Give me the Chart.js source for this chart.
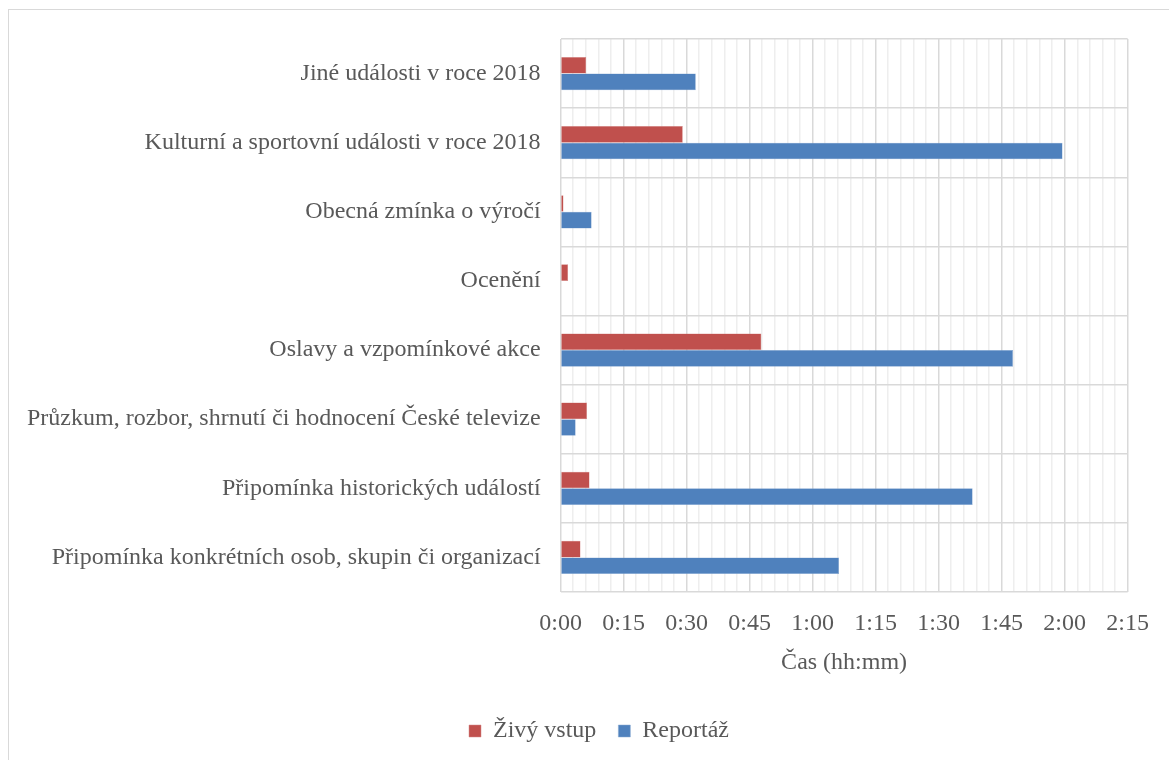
<!DOCTYPE html>
<html>
<head>
<meta charset="utf-8">
<script src="https://cdn.jsdelivr.net/npm/chart.js@4.4.1/dist/chart.umd.min.js"></script>
<style>
  html, body { margin: 0; padding: 0; background: #fff; }
  #wrap { position: relative; width: 1169px; height: 760px; }
  #frame { position: absolute; left: 8px; top: 9px; width: 1200px; height: 800px; border: 1px solid #d9d9d9; box-sizing: border-box; }
  canvas { position: absolute; left: 0; top: 0; }
</style>
</head>
<body>
<div id="wrap">
  <div id="frame"></div>
  <canvas id="casChart" width="1169" height="760"></canvas>
</div>
<script>
// kategorie shora dolu
const categories = [
    'Jiné události v roce 2018',
    'Kulturní a sportovní události v roce 2018',
    'Obecná zmínka o výročí',
    'Ocenění',
    'Oslavy a vzpomínkové akce',
    'Průzkum, rozbor, shrnutí či hodnocení České televize',
    'Připomínka historických událostí',
    'Připomínka konkrétních osob, skupin či organizací'
];

// hodnoty v minutach
const zivyVstup = [6.1, 29.1, 0.7, 1.8, 47.8, 6.3, 6.9, 4.75];
const reportaz = [32.2, 119.5, 7.4, 0, 107.7, 3.6, 98.1, 66.3];

// osa x: 0:00 .. 2:15, popisky po 15 min, pomocne mrizky po 3 min
const axisMax = 135;
const labelStep = 15;
const minorStep = 3;

function fmt(min) {
    const h = Math.floor(min / 60);
    const m = Math.round(min % 60).toString().padStart(2, '0');
    return h + ':' + m;
}

const ctx = document.getElementById('casChart').getContext('2d');
const font = "'Liberation Serif', 'Times New Roman', serif";

// posun legendy trochu doprava (jako v Excelu)
const legendShift = {
    id: 'legendShift',
    afterLayout(chart) {
        chart.legend.left += 31;
        chart.legend.right += 31;
    }
};

new Chart(ctx, {
    type: 'bar',
    data: {
        labels: categories,
        datasets: [
            {
                label: 'Živý vstup',
                data: zivyVstup,
                backgroundColor: '#C0504D',
                borderColor: '#d58a88',
                borderWidth: 0.5,
                categoryPercentage: 0.48,
                barPercentage: 1.0
            },
            {
                label: 'Reportáž',
                data: reportaz,
                backgroundColor: '#4F81BD',
                borderColor: '#8aaad3',
                borderWidth: 0.5,
                categoryPercentage: 0.48,
                barPercentage: 1.0
            }
        ]
    },
    options: {
        indexAxis: 'y',
        responsive: false,
        animation: false,
        layout: { padding: { left: 7, right: 40, top: 39, bottom: 7 } },
        scales: {
            x: {
                min: 0,
                max: axisMax,
                border: { display: false },
                ticks: {
                    stepSize: minorStep,
                    autoSkip: false,
                    maxRotation: 0,
                    padding: 20,
                    color: '#595959',
                    font: { family: font, size: 24, lineHeight: 1 },
                    callback: (v) => (v % labelStep === 0 ? fmt(v) : '')
                },
                grid: {
                    drawTicks: false,
                    color: (c) => (c.tick && c.tick.value % labelStep === 0 ? '#d9d9d9' : '#eeeeee'),
                    lineWidth: 1.5
                },
                title: {
                    display: true,
                    text: 'Čas (hh:mm)',
                    color: '#595959',
                    font: { family: font, size: 24, lineHeight: 0.6 },
                    padding: { top: 0, bottom: 26.6 }
                }
            },
            y: {
                border: { display: false },
                ticks: {
                    padding: 20,
                    color: '#595959',
                    font: { family: font, size: 24 }
                },
                grid: {
                    drawTicks: false,
                    color: '#d9d9d9',
                    lineWidth: 1.5
                }
            }
        },
        plugins: {
            legend: {
                position: 'bottom',
                labels: {
                    boxWidth: 12,
                    boxHeight: 12,
                    padding: 22,
                    color: '#595959',
                    font: { family: font, size: 24 }
                }
            },
            tooltip: { enabled: false }
        }
    },
    plugins: [legendShift]
});
</script>
</body>
</html>
